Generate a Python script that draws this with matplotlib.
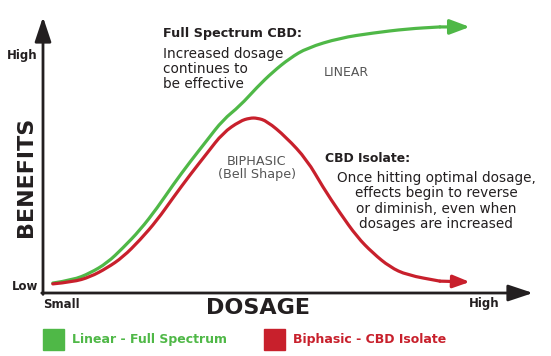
import matplotlib
matplotlib.use("Agg")
import matplotlib.pyplot as plt
from matplotlib.path import Path
from matplotlib.patches import PathPatch

# dosage (0-100) vs benefit (0-100)
dosage_linear = [2.0, 6.1, 9.6, 13.1, 16.3, 19.8, 23.3, 26.5, 30.0, 33.5, 36.7, 40.2,
                 43.7, 46.9, 50.4, 53.9, 60.6, 67.3, 74.3, 81.0, 87.1]
benefit_linear = [3.6, 4.7, 7.2, 10.9, 16.3, 22.8, 30.8, 39.1, 47.5, 55.4, 62.7, 67.8,
                  74.6, 80.1, 85.1, 88.8, 92.4, 94.2, 95.7, 96.4, 96.4]

dosage_biphasic = [2.0, 6.1, 9.6, 13.1, 16.3, 19.8, 23.3, 26.5, 30.0, 33.5, 36.7, 40.2,
                   42.2, 43.7, 45.7, 49.6, 53.9, 57.1, 60.6, 64.1, 67.3, 70.8, 74.3, 81.0, 87.1]
benefit_biphasic = [3.3, 4.0, 5.8, 9.1, 13.0, 19.2, 26.4, 34.4, 42.8, 50.7, 58.0, 62.3,
                    63.4, 63.4, 62.3, 56.5, 48.2, 38.4, 29.0, 20.3, 14.5, 9.4, 6.5, 4.3, 4.0]

legend_labels = ["Linear - Full Spectrum", "Biphasic - CBD Isolate"]

GREEN = "#4fb847"
RED = "#c8202c"
DARK = "#231f20"
GRAY = "#555555"


def smooth_path(xs, ys):
    # quadratic bezier through midpoints, read points act as control points
    verts = [(xs[0], ys[0])]
    codes = [Path.MOVETO]
    for i in range(1, len(xs) - 1):
        mx = (xs[i] + xs[i + 1]) / 2
        my = (ys[i] + ys[i + 1]) / 2
        verts += [(xs[i], ys[i]), (mx, my)]
        codes += [Path.CURVE3, Path.CURVE3]
    verts.append((xs[-1], ys[-1]))
    codes.append(Path.LINETO)
    return Path(verts, codes)


W, H = 551, 356
fig = plt.figure(figsize=(W / 100, H / 100), dpi=100)

# main plot area: y-axis at x=43px, x-axis at y=293px
ax = fig.add_axes([43 / W, (H - 293) / H, (533 - 43) / W, (293 - 17) / H])
ax.set_xlim(0, 100)
ax.set_ylim(0, 100)
ax.axis("off")

# axes with arrows
arrow_kw = dict(arrowstyle="-|>,head_length=1.5,head_width=0.5", color=DARK, lw=2.0,
                shrinkA=0, shrinkB=0)
ax.annotate("", xy=(100, 0), xytext=(-0.25, 0), arrowprops=arrow_kw, annotation_clip=False)
ax.annotate("", xy=(0, 100), xytext=(0, -0.5), arrowprops=arrow_kw, annotation_clip=False)

# curves
for xs, ys, c, hl, hw in [(dosage_linear, benefit_linear, GREEN, 1.2, 0.45),
                          (dosage_biphasic, benefit_biphasic, RED, 1.0, 0.38)]:
    ax.add_patch(PathPatch(smooth_path(xs[:-1], ys[:-1]), fill=False, edgecolor=c,
                           lw=2.3, capstyle="round", joinstyle="round", clip_on=False))
    ax.annotate("", xy=(xs[-1], ys[-1]), xytext=(xs[-2], ys[-2]),
                arrowprops=dict(arrowstyle=f"-|>,head_length={hl},head_width={hw}",
                                color=c, lw=2.3, shrinkA=0, shrinkB=0),
                annotation_clip=False)

# text layer in pixel coordinates
t = fig.add_axes([0, 0, 1, 1], zorder=-1)
t.set_xlim(0, W)
t.set_ylim(H, 0)
t.axis("off")

font = "DejaVu Sans"
t.text(38, 56, "High", ha="right", va="center", fontsize=8.5, fontweight="bold",
       color=DARK, family=font)
t.text(38, 286, "Low", ha="right", va="center", fontsize=8.5, fontweight="bold",
       color=DARK, family=font)
t.text(43, 304, "Small", ha="left", va="center", fontsize=8.5, fontweight="bold",
       color=DARK, family=font)
t.text(500, 304, "High", ha="right", va="center", fontsize=8.5, fontweight="bold",
       color=DARK, family=font)
t.text(26.5, 177, "BENEFITS", ha="center", va="center", rotation=90, fontsize=16,
       fontweight="heavy", color=DARK, family=font)
t.text(258, 308, "DOSAGE", ha="center", va="center", fontsize=16,
       fontweight="heavy", color=DARK, family=font)

t.text(163, 34, "Full Spectrum CBD:", ha="left", va="center", fontsize=9.2,
       fontweight="bold", color=DARK, family=font)
t.text(163, 69, "Increased dosage\ncontinues to\nbe effective", ha="left", va="center",
       fontsize=9.8, color=DARK, family=font, linespacing=1.1)
t.text(346, 72, "LINEAR", ha="center", va="center", fontsize=9, color=GRAY, family=font)
t.text(257, 168, "BIPHASIC\n(Bell Shape)", ha="center", va="center", fontsize=9.2,
       color=GRAY, family=font, linespacing=1.05)

t.text(325, 158, "CBD Isolate:", ha="left", va="center", fontsize=8.9,
       fontweight="bold", color=DARK, family=font)
t.text(436, 201, "Once hitting optimal dosage,\neffects begin to reverse\n"
       "or diminish, even when\ndosages are increased", ha="center", va="center",
       fontsize=9.8, color=DARK, family=font, linespacing=1.1)

# legend
t.add_patch(plt.Rectangle((43, 329), 21, 21, color=GREEN))
t.text(72, 340, legend_labels[0], ha="left", va="center", fontsize=9,
       fontweight="bold", color=GREEN, family=font)
t.add_patch(plt.Rectangle((264, 329), 21, 21, color=RED))
t.text(293, 340, legend_labels[1], ha="left", va="center", fontsize=9,
       fontweight="bold", color=RED, family=font)

fig.savefig("out.png", dpi=100)
